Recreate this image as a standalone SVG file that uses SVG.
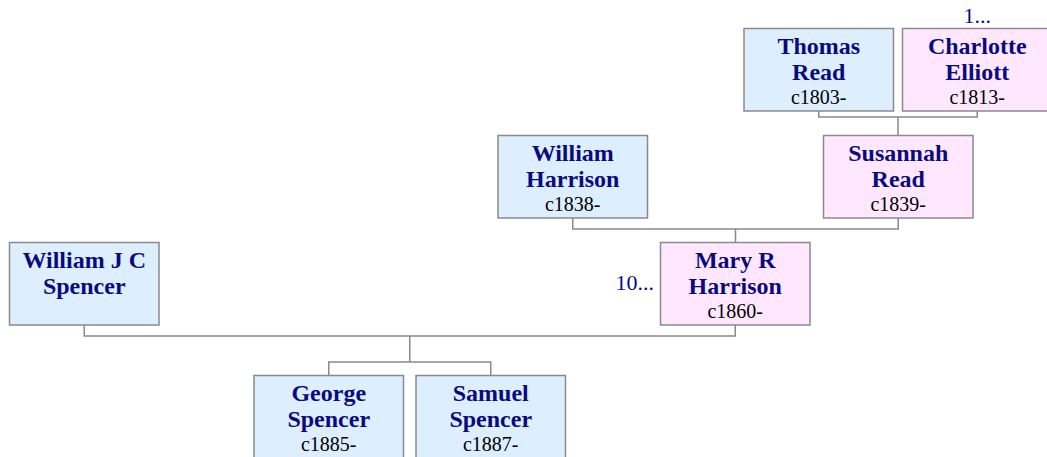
<svg xmlns="http://www.w3.org/2000/svg" width="1047" height="457" viewBox="0 0 1047 457">
<style>
.m{fill:#ddeeff;stroke:#8a8a8a;stroke-width:1.5}
.f{fill:#ffe8ff;stroke:#8a8a8a;stroke-width:1.5}
.n{font-family:"Liberation Serif",serif;font-weight:bold;font-size:24px;fill:#0a0a80;text-anchor:middle}
.d{font-family:"Liberation Serif",serif;font-size:20px;fill:#000;text-anchor:middle}
.e{font-family:"Liberation Serif",serif;font-size:22px;fill:#0a0a80}
.c{fill:none;stroke:#8a8a8a;stroke-width:1.5}
</style>
<rect width="1047" height="457" fill="#fff"/>
<g id="connectors">
<path class="c" d="M818.75 111 V117 H977.25 V111 M898 117 V135.5"/>
<path class="c" d="M572.75 218 V229 H898.25 V218 M735.5 229 V242.5"/>
<path class="c" d="M84.25 325 V336 H735.25 V325 M409.75 336 V362 M328.75 375.5 V362 H490.75 V375.5"/>
</g>
<g id="thomas_read">
<rect class="m" x="744" y="28.5" width="149.5" height="82.5"/>
<text class="n" x="818.75" y="53.5">Thomas</text>
<text class="n" x="818.75" y="80">Read</text>
<text class="d" x="818.75" y="104">c1803-</text>
</g>
<g id="charlotte_elliott">
<rect class="f" x="902.5" y="28.5" width="149.5" height="82.5"/>
<text class="n" x="977.25" y="53.5">Charlotte</text>
<text class="n" x="977.25" y="80">Elliott</text>
<text class="d" x="977.25" y="104">c1813-</text>
<text class="e" x="977.25" y="23" text-anchor="middle">1...</text>
</g>
<g id="william_harrison">
<rect class="m" x="498" y="135.5" width="149.5" height="82.5"/>
<text class="n" x="572.75" y="160.5">William</text>
<text class="n" x="572.75" y="187">Harrison</text>
<text class="d" x="572.75" y="211">c1838-</text>
</g>
<g id="susannah_read">
<rect class="f" x="823.5" y="135.5" width="149.5" height="82.5"/>
<text class="n" x="898.25" y="160.5">Susannah</text>
<text class="n" x="898.25" y="187">Read</text>
<text class="d" x="898.25" y="211">c1839-</text>
</g>
<g id="william_j_c_spencer">
<rect class="m" x="9.5" y="242.5" width="149.5" height="82.5"/>
<text class="n" x="84.25" y="267.5">William J C</text>
<text class="n" x="84.25" y="294">Spencer</text>
</g>
<g id="mary_r_harrison">
<rect class="f" x="660.5" y="242.5" width="149.5" height="82.5"/>
<text class="n" x="735.25" y="267.5">Mary R</text>
<text class="n" x="735.25" y="294">Harrison</text>
<text class="d" x="735.25" y="318">c1860-</text>
<text class="e" x="654" y="290" text-anchor="end">10...</text>
</g>
<g id="george_spencer">
<rect class="m" x="254" y="375.5" width="149.5" height="82.5"/>
<text class="n" x="328.75" y="400.5">George</text>
<text class="n" x="328.75" y="427">Spencer</text>
<text class="d" x="328.75" y="451">c1885-</text>
</g>
<g id="samuel_spencer">
<rect class="m" x="416" y="375.5" width="149.5" height="82.5"/>
<text class="n" x="490.75" y="400.5">Samuel</text>
<text class="n" x="490.75" y="427">Spencer</text>
<text class="d" x="490.75" y="451">c1887-</text>
</g>
</svg>
